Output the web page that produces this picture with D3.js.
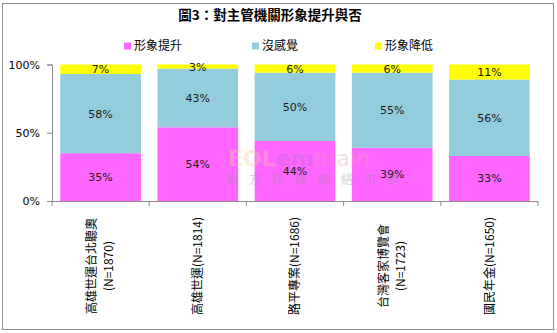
<!DOCTYPE html>
<html>
<head>
<meta charset="utf-8">
<script src="https://cdn.jsdelivr.net/npm/d3@7"></script>
<style>
  html, body { margin: 0; padding: 0; background: #fff; }
  svg { display: block; }
</style>
</head>
<body>
<svg id="chart" width="557" height="333"></svg>
<script>
// Survey result: did the event improve the image of the responsible agency?
const categories = [
  ["高雄世運台北聽奧", "(N=1870)"],
  ["高雄世運(N=1814)"],
  ["路平專案(N=1686)"],
  ["台灣客家博覽會", "(N=1723)"],
  ["國民年金(N=1650)"]
];
const seriesNames = ["形象提升", "沒感覺", "形象降低"];
const improved  = [35, 54, 44, 39, 33];
const noFeeling = [58, 43, 50, 55, 56];
const worsened  = [7, 3, 6, 6, 11];
const yTicks = [0, 50, 100];
const colors = ["#FF66FF", "#93CDDD", "#FFFF00"];

const svg = d3.select("#chart");
const latin = "DejaVu Sans, Verdana, sans-serif";
const cjk = "'Noto Sans CJK TC', 'Noto Sans CJK SC', sans-serif";

// chart frame
svg.append("rect").attr("x", 2.5).attr("y", 3.5).attr("width", 551).attr("height", 326)
  .attr("fill", "#fff").attr("stroke", "#8c8c8c").attr("stroke-width", 1);

// title
svg.append("text").attr("x", 270).attr("y", 20).attr("text-anchor", "middle")
  .attr("font-family", cjk).attr("font-weight", "bold").attr("font-size", 13.5)
  .attr("fill", "#000").text("圖3：對主管機關形象提升與否");

// legend
const legendX = [124, 252, 375];
seriesNames.forEach((name, i) => {
  const g = svg.append("g").attr("transform", `translate(${legendX[i]},46)`);
  g.append("rect").attr("x", 0).attr("y", -3.5).attr("width", 7).attr("height", 7).attr("fill", colors[i]);
  g.append("text").attr("x", 10).attr("y", 0).attr("dy", "0.36em")
    .attr("font-family", cjk).attr("font-size", 12).attr("fill", "#000").text(name);
});

const x = d3.scaleBand().domain(d3.range(categories.length)).range([52, 538])
  .paddingInner(0.17).paddingOuter(0.085);
const y = d3.scaleLinear().domain([0, 100]).range([201, 64.5]);

// stack the three series
const rows = categories.map((c, i) => ({ i, s0: improved[i], s1: noFeeling[i], s2: worsened[i] }));
const stack = d3.stack().keys(["s0", "s1", "s2"])(rows);

const layers = svg.append("g").selectAll("g").data(stack).join("g")
  .attr("fill", (d, k) => colors[k]);
layers.selectAll("rect").data(d => d).join("rect")
  .attr("x", d => x(d.data.i))
  .attr("width", x.bandwidth())
  .attr("y", d => y(d[1]))
  .attr("height", d => y(d[0]) - y(d[1]));

// faint watermark
const wm = svg.append("g").attr("opacity", 0.35);
wm.append("text").attr("x", 228).attr("y", 166).attr("font-family", latin)
  .attr("font-size", 22)
  .selectAll("tspan").data([["EOL", "#f9c9a0"], ["em", "#b36ad0"], ["brain", "#f3a0b0"]]).join("tspan")
  .attr("fill", d => d[1]).attr("font-weight", d => d[0] === "brain" ? "normal" : "bold").text(d => d[0]);
wm.append("text").attr("x", 226).attr("y", 184).attr("font-family", cjk).attr("font-size", 12)
  .attr("letter-spacing", 11).attr("fill", "#888").text("東方快線網絡市調");

// value labels
layers.selectAll("text").data(d => d).join("text")
  .attr("x", d => x(d.data.i) + x.bandwidth() / 2)
  .attr("y", d => (y(d[0]) + y(d[1])) / 2)
  .attr("dy", "0.36em").attr("text-anchor", "middle")
  .attr("font-family", latin).attr("font-size", 11).attr("fill", "#1a1a1a")
  .text(d => (d[1] - d[0]) + "%");

// y axis
const yAxis = svg.append("g").attr("transform", "translate(52,0)")
  .call(d3.axisLeft(y).tickValues(yTicks).tickFormat(d => d + "%").tickSize(5).tickPadding(7));
yAxis.select(".domain").attr("stroke", "#8c8c8c");
yAxis.selectAll(".tick line").attr("stroke", "#8c8c8c");
yAxis.selectAll(".tick text").attr("font-family", latin).attr("font-size", 11).attr("fill", "#000");

// x axis with boundary ticks between categories
const xb = svg.append("g");
xb.append("line").attr("x1", 52).attr("x2", 538).attr("y1", 201.5).attr("y2", 201.5).attr("stroke", "#8c8c8c");
xb.selectAll("line.tk").data(d3.range(categories.length + 1)).join("line").attr("class", "tk")
  .attr("x1", i => 52 + i * (486 / categories.length)).attr("x2", i => 52 + i * (486 / categories.length))
  .attr("y1", 201).attr("y2", 206).attr("stroke", "#8c8c8c");

// rotated category labels
categories.forEach((lines, i) => {
  const cx = x(i) + x.bandwidth() / 2;
  const n = lines.length;
  const t = svg.append("text").attr("transform", `translate(${cx},266) rotate(-90)`)
    .attr("text-anchor", "middle").attr("font-family", cjk).attr("font-size", 12).attr("fill", "#000");
  lines.forEach((ln, j) => {
    t.append("tspan").attr("x", 0).attr("y", (j - (n - 1) / 2) * 17).attr("dy", "0.36em").text(ln);
  });
});
</script>
</body>
</html>
